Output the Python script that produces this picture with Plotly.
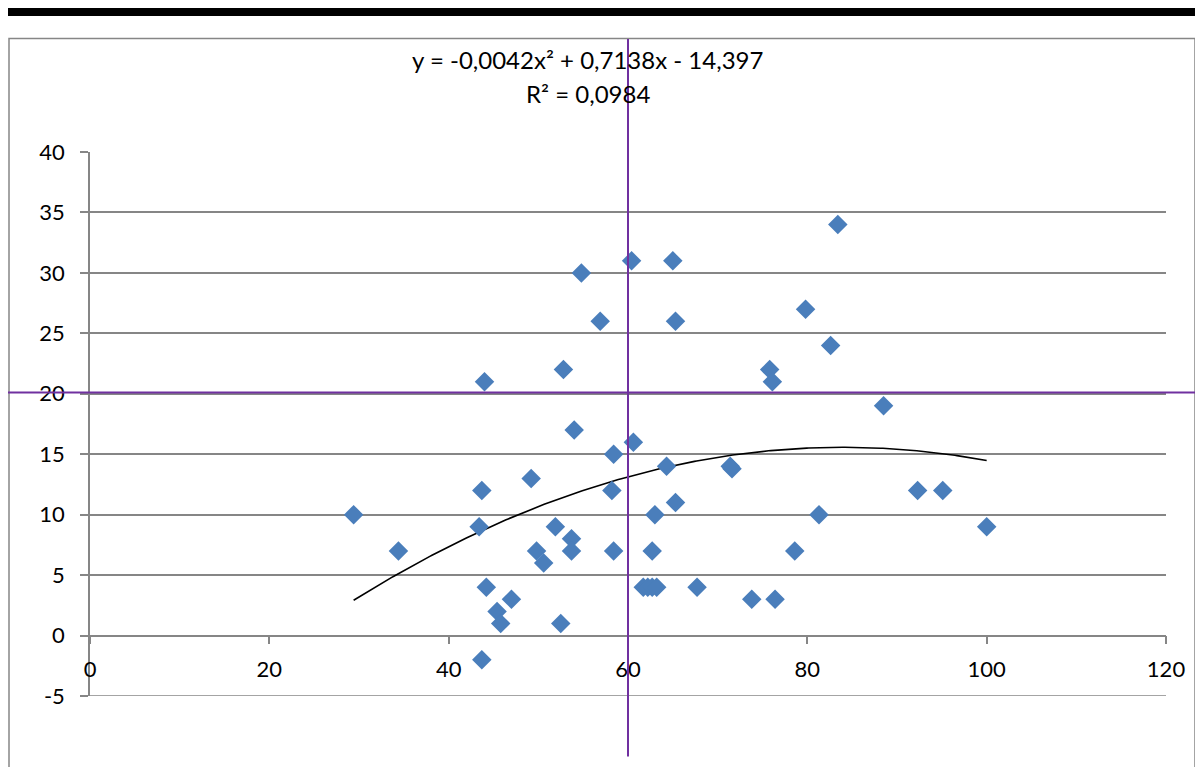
import numpy as np
import plotly.graph_objects as go

# ---- data ----
x_vals = [29.4, 34.4, 43.4, 43.7, 44.0, 44.2, 43.7, 45.4, 45.8, 47.0,
          49.2, 49.8, 50.6, 51.9, 52.5, 52.8, 53.7, 53.7, 54.0, 54.8,
          56.9, 58.2, 58.4, 58.4, 60.4, 60.6, 61.7, 62.2, 62.7, 63.2,
          62.7, 63.0, 64.3, 65.0, 65.3, 65.3, 67.7, 71.4, 71.6, 73.8,
          75.8, 76.1, 76.4, 78.6, 79.8, 81.3, 82.6, 83.4, 88.5, 92.3,
          95.1, 100.0]
y_vals = [10, 7, 9, 12, 21, 4, -2, 2, 1, 3,
          13, 7, 6, 9, 1, 22, 8, 7, 17, 30,
          26, 12, 15, 7, 31, 16, 4, 4, 4, 4,
          7, 10, 14, 31, 26, 11, 4, 14, 13.8, 3,
          22, 21, 3, 7, 27, 10, 24, 34, 19, 12,
          12, 9]

# polynomial trendline coefficients (label shows them rounded)
trend_a = -0.00425
trend_b = 0.7138
trend_c = -14.397
equation_text = "y = -0,0042x² + 0,7138x - 14,397"
r2_text = "R² = 0,0984"

x_ticks = [0, 20, 40, 60, 80, 100, 120]
y_ticks = [-5, 0, 5, 10, 15, 20, 25, 30, 35, 40]
x_range = [0, 120]
y_range = [-5, 40]

ref_x = 60      # vertical reference line
ref_y = 20.1    # horizontal reference line

# ---- styles ----
GRID = "#868686"
BLUE = "#4A7EBB"
PURPLE = "#7030A0"
FONT = "Lato"

tx = np.linspace(min(x_vals), max(x_vals), 300)
ty = trend_a * tx ** 2 + trend_b * tx + trend_c

fig = go.Figure()
fig.add_trace(go.Scatter(
    x=tx, y=ty, mode="lines",
    line=dict(color="black", width=1.6),
    hoverinfo="skip", showlegend=False))
fig.add_trace(go.Scatter(
    x=x_vals, y=y_vals, mode="markers",
    marker=dict(symbol="diamond", size=15, color=BLUE,
                line=dict(width=0)),
    showlegend=False))

OFF = 8  # page body margin
W, H = 1203 - OFF, 767 - OFF
ml, mr, mt, mb = 90 - OFF, 37, 152 - OFF, 70.5
pw = W - ml - mr
ph = H - mt - mb


def px_x(p):
    # page pixel -> paper fraction
    return (p - OFF - ml) / pw


def px_y(p):
    return (H - mb - (p - OFF)) / ph


shapes = [
    # thick black bar at the top
    dict(type="rect", xref="paper", yref="paper",
         x0=px_x(5), x1=px_x(1210), y0=px_y(16), y1=px_y(7),
         fillcolor="black", line=dict(width=0), layer="above"),
    # outer chart border
    dict(type="rect", xref="paper", yref="paper",
         x0=px_x(9), x1=px_x(1195), y0=px_y(790), y1=px_y(38.5),
         fillcolor="rgba(0,0,0,0)", line=dict(color=GRID, width=1.5),
         layer="below"),
    # bottom gridline (at the lower end of the y range)
    dict(type="line", xref="x", yref="y",
         x0=x_range[0], x1=x_range[1], y0=y_range[0], y1=y_range[0],
         line=dict(color=GRID, width=1.5), layer="below"),
    # purple horizontal reference line
    dict(type="line", xref="paper", yref="y",
         x0=px_x(0), x1=px_x(1210), y0=ref_y, y1=ref_y,
         line=dict(color=PURPLE, width=2), layer="above"),
    # purple vertical reference line
    dict(type="line", xref="x", yref="paper",
         x0=ref_x, x1=ref_x, y0=px_y(757), y1=px_y(39),
         line=dict(color=PURPLE, width=2), layer="above"),
]

fig.update_layout(
    width=W, height=H,
    margin=dict(l=ml, r=mr, t=mt, b=mb, pad=0),
    paper_bgcolor="white", plot_bgcolor="white",
    font=dict(family=FONT, size=22, color="black"),
    showlegend=False,
    shapes=shapes,
    xaxis=dict(range=x_range, tickvals=x_ticks,
               ticktext=[str(v) for v in x_ticks],
               showgrid=False, zeroline=False,
               showline=True, linecolor=GRID, linewidth=1.5,
               ticks="outside", ticklen=8, tickcolor=GRID, tickwidth=1.5,
               anchor="free", position=(0 - y_range[0]) / (y_range[1] - y_range[0]),
               ticklabelstandoff=6,
               tickfont=dict(family=FONT, size=22, color="black")),
    yaxis=dict(range=y_range, tickvals=y_ticks,
               ticktext=[str(v) for v in y_ticks],
               showgrid=True, gridcolor=GRID, gridwidth=1.5,
               zeroline=False,
               showline=True, linecolor=GRID, linewidth=1.5,
               ticks="outside", ticklen=8, tickcolor=GRID, tickwidth=1.5,
               ticklabelstandoff=11,
               tickfont=dict(family=FONT, size=22, color="black")),
    annotations=[
        dict(text=equation_text, xref="paper", yref="paper",
             x=px_x(587), y=px_y(59), showarrow=False,
             xanchor="center", yanchor="middle",
             font=dict(family=FONT, size=24, color="black")),
        dict(text=r2_text, xref="paper", yref="paper",
             x=px_x(588), y=px_y(93), showarrow=False,
             xanchor="center", yanchor="middle",
             font=dict(family=FONT, size=24, color="black")),
    ],
)

fig.write_html("out.html")
